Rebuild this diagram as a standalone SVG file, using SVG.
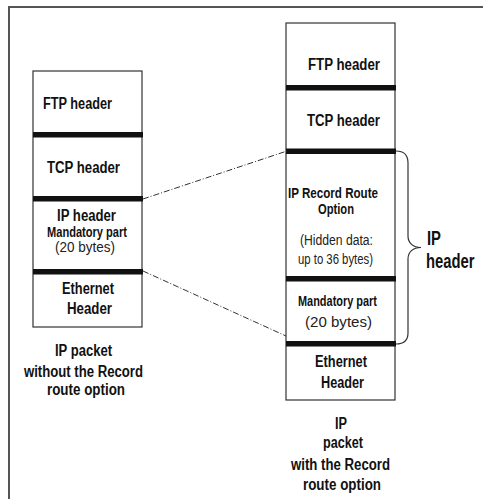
<svg xmlns="http://www.w3.org/2000/svg" width="483" height="499" viewBox="0 0 483 499">
  <style>
    text { font-family: "Liberation Sans", Arial, sans-serif; fill: #111; }
    .h { font-size: 16px; font-weight: bold; }
    .s { font-size: 14px; font-weight: bold; }
    .r { font-size: 14px; font-weight: normal; fill: #222; }
    .big { font-size: 19.5px; font-weight: bold; }
    .box { fill: #fff; stroke: #333; stroke-width: 1.2; }
    .bar { fill: #111; }
    .link { fill: none; stroke: #333; stroke-width: 1; stroke-dasharray: 6 2 1 2; }
    .brace { fill: none; stroke: #333; stroke-width: 1.2; }
  </style>
  <rect width="483" height="499" fill="#fff"/>
  <!-- outer frame (only top and left edges are visible) -->
  <path d="M9,499 V7 H483" fill="none" stroke="#555" stroke-width="2"/>

  <!-- packet without the record route option -->
  <g id="packet-plain">
    <rect class="box" x="33" y="71" width="109" height="256"/>
    <rect class="bar" x="33" y="132" width="110" height="5.5"/>
    <rect class="bar" x="33" y="196" width="110" height="5.5"/>
    <rect class="bar" x="33" y="269" width="110" height="5.5"/>
    <text class="h" x="43" y="109" textLength="69" lengthAdjust="spacingAndGlyphs">FTP header</text>
    <text class="h" x="47" y="173" textLength="73" lengthAdjust="spacingAndGlyphs">TCP header</text>
    <text class="h" x="57" y="221" textLength="59" lengthAdjust="spacingAndGlyphs">IP header</text>
    <text class="s" x="47" y="237" textLength="80" lengthAdjust="spacingAndGlyphs">Mandatory part</text>
    <text class="r" x="55" y="252" textLength="60" lengthAdjust="spacingAndGlyphs">(20 bytes)</text>
    <text class="h" x="62" y="294" textLength="52" lengthAdjust="spacingAndGlyphs">Ethernet</text>
    <text class="h" x="67" y="314" textLength="45" lengthAdjust="spacingAndGlyphs">Header</text>
  </g>
  <g id="label-plain">
    <text class="h" x="55" y="356" textLength="57" lengthAdjust="spacingAndGlyphs">IP packet</text>
    <text class="h" x="24" y="377" textLength="119" lengthAdjust="spacingAndGlyphs">without the Record</text>
    <text class="h" x="47" y="395" textLength="78" lengthAdjust="spacingAndGlyphs">route option</text>
  </g>

  <!-- packet with the record route option -->
  <g id="packet-rr">
    <rect class="box" x="286" y="23" width="109" height="377"/>
    <rect class="bar" x="286" y="85" width="110" height="5.5"/>
    <rect class="bar" x="286" y="148.5" width="110" height="5.5"/>
    <rect class="bar" x="286" y="276" width="110" height="5.5"/>
    <rect class="bar" x="286" y="341" width="110" height="5.5"/>
    <text class="h" x="308" y="70" textLength="72" lengthAdjust="spacingAndGlyphs">FTP header</text>
    <text class="h" x="307" y="126" textLength="73" lengthAdjust="spacingAndGlyphs">TCP header</text>
    <text class="s" x="288" y="198" textLength="90" lengthAdjust="spacingAndGlyphs">IP Record Route</text>
    <text class="s" x="318" y="214" textLength="36" lengthAdjust="spacingAndGlyphs">Option</text>
    <text class="r" x="300" y="245" textLength="73" lengthAdjust="spacingAndGlyphs">(Hidden data:</text>
    <text class="r" x="298" y="264" textLength="75" lengthAdjust="spacingAndGlyphs">up to 36 bytes)</text>
    <text class="s" x="298" y="306" textLength="79" lengthAdjust="spacingAndGlyphs">Mandatory part</text>
    <text class="r" x="305" y="327" textLength="67" lengthAdjust="spacingAndGlyphs">(20 bytes)</text>
    <text class="h" x="315" y="367" textLength="52" lengthAdjust="spacingAndGlyphs">Ethernet</text>
    <text class="h" x="321" y="388" textLength="43" lengthAdjust="spacingAndGlyphs">Header</text>
  </g>
  <g id="label-rr">
    <text class="h" x="335" y="429" textLength="12" lengthAdjust="spacingAndGlyphs">IP</text>
    <text class="h" x="323" y="448" textLength="40" lengthAdjust="spacingAndGlyphs">packet</text>
    <text class="h" x="291" y="470" textLength="99" lengthAdjust="spacingAndGlyphs">with the Record</text>
    <text class="h" x="303" y="490" textLength="78" lengthAdjust="spacingAndGlyphs">route option</text>
  </g>

  <!-- brace grouping the IP header parts -->
  <g id="ip-header-brace">
    <path class="brace" d="M396,151 C404,151 408,155 408,163 V236 C408,243 413,247.5 421,247.5 C413,247.5 408,252 408,259 V333 C408,340 404,344 396,344"/>
    <!-- condensed caption, narrowed horizontally -->
    <text class="big" transform="translate(427,245) scale(0.76,1)">IP</text>
    <text class="big" transform="translate(426,267.5) scale(0.76,1)">header</text>
  </g>

  <!-- dash-dot connectors between the two IP header extents -->
  <g id="connectors">
    <line class="link" x1="143" y1="199" x2="287" y2="151"/>
    <line class="link" x1="143" y1="271" x2="286" y2="336"/>
  </g>
</svg>
